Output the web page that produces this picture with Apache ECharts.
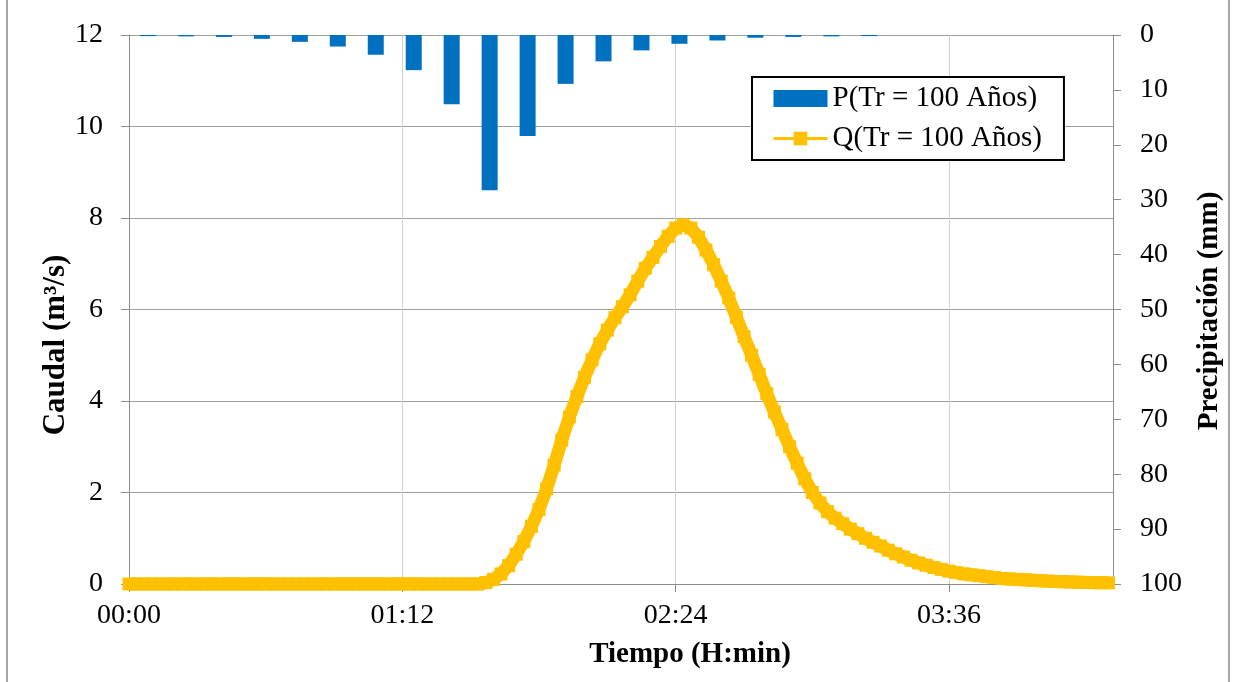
<!DOCTYPE html>
<html>
<head>
<meta charset="utf-8">
<script src="https://cdn.jsdelivr.net/npm/echarts@6/dist/echarts.min.js"></script>
<style>
html,body{margin:0;padding:0;background:#fff;}
#chart{width:1233px;height:682px;}
</style>
</head>
<body>
<div id="chart"></div>
<script>
// ---- Data ----
const seriesNameP = 'P(Tr = 100 Años)';
const seriesNameQ = 'Q(Tr = 100 Años)';

// Precipitation bars (mm), centred in 10-minute blocks (minutes)
const pTimes = [5, 15, 25, 35, 45, 55, 65, 75, 85, 95, 105, 115, 125, 135, 145, 155, 165, 175, 185, 195];
const pValues = [0.2, 0.25, 0.35, 0.7, 1.25, 2.1, 3.6, 6.4, 12.6, 28.3, 18.4, 8.9, 4.8, 2.8, 1.6, 1.0, 0.5, 0.35, 0.25, 0.2];

// Discharge hydrograph (m3/s), sampled every 2 minutes from 00:00
const qStepMin = 2;
const qValues = [
  0,0,0,0,0,0,0,0,0,0,
  0,0,0,0,0,0,0,0,0,0,
  0,0,0,0,0,0,0,0,0,0,
  0,0,0,0,0,0,0,0,0,0,
  0,0,0,0,0,0,0,
  0.03, 0.1, 0.22, 0.4, 0.65, 0.93, 1.26, 1.63, 2.08, 2.6,
  3.15, 3.65, 4.1, 4.52, 4.9, 5.25, 5.55, 5.82, 6.06, 6.32,
  6.62, 6.9, 7.14, 7.38, 7.6, 7.78, 7.85, 7.78, 7.58, 7.3,
  6.98, 6.62, 6.25, 5.83, 5.41, 5.0, 4.58, 4.16, 3.76, 3.38,
  3.0, 2.64, 2.3, 2.0, 1.77, 1.58, 1.44, 1.32, 1.2, 1.1,
  1.0, 0.91, 0.83, 0.74, 0.66, 0.59, 0.52, 0.46, 0.41, 0.36,
  0.32, 0.28, 0.25, 0.22, 0.2, 0.18, 0.16, 0.14, 0.12, 0.11,
  0.1, 0.09, 0.08, 0.07, 0.065, 0.055, 0.05, 0.045, 0.04, 0.035,
  0.03, 0.03, 0.025
];

// X axis (minutes) tick labels
const xTickValues = [0, 72, 144, 216];
const xTickLabels = ['00:00', '01:12', '02:24', '03:36'];
const xMin = 0, xMax = 259.2, xGridStep = 14.4;

const yLeftTitle = 'Caudal (m³/s)';
const yRightTitle = 'Precipitación (mm)';
const xTitle = 'Tiempo (H:min)';

// ---- Build ----
const qData = qValues.map((v, i) => [i * qStepMin, v]);
const pData = pTimes.map((t, i) => [t, pValues[i]]);

const FONT = "'Liberation Serif', 'Times New Roman', serif";
const chart = echarts.init(document.getElementById('chart'), null, {renderer: 'canvas'});

chart.setOption({
  animation: false,
  backgroundColor: '#ffffff',
  textStyle: {fontFamily: FONT, color: '#000'},
  grid: {left: 129, right: 120, top: 35, bottom: 98, containLabel: false},
  legend: {
    orient: 'vertical',
    left: 752, top: 77,
    padding: [7, 22, 7, 20],
    itemGap: 11,
    itemWidth: 54, itemHeight: 17,
    borderColor: '#000', borderWidth: 2,
    backgroundColor: '#fff',
    lineStyle: {width: 3},
    textStyle: {fontSize: 29, color: '#000', fontFamily: FONT},
    data: [{name: seriesNameP, icon: 'rect'}, {name: seriesNameQ}]
  },
  xAxis: {
    type: 'value', min: xMin, max: xMax, interval: xGridStep,
    axisLine: {show: true, lineStyle: {color: '#8c8c8c', width: 1}},
    axisTick: {show: true, length: 8, lineStyle: {color: '#8c8c8c'}, customValues: xTickValues},
    axisLabel: {
      fontSize: 28, color: '#000', margin: 18, fontFamily: FONT,
      customValues: xTickValues,
      formatter: function (v) {
        for (let i = 0; i < xTickValues.length; i++) {
          if (Math.abs(v - xTickValues[i]) < 0.01) return xTickLabels[i];
        }
        return '';
      }
    },
    splitLine: {show: true, lineStyle: {color: '#d0d0d0', width: 1}}
  },
  yAxis: [
    {
      type: 'value', min: 0, max: 12, interval: 2,
      axisLine: {show: true, lineStyle: {color: '#8c8c8c'}},
      axisTick: {show: true, length: 8, lineStyle: {color: '#8c8c8c'}},
      axisLabel: {fontSize: 28, color: '#000', margin: 26, fontFamily: FONT},
      splitLine: {show: true, lineStyle: {color: '#a0a0a0', width: 1}}
    },
    {
      type: 'value', min: 0, max: 100, interval: 10, inverse: true, position: 'right',
      axisLine: {show: true, lineStyle: {color: '#8c8c8c'}},
      axisTick: {show: true, length: 8, lineStyle: {color: '#8c8c8c'}},
      axisLabel: {fontSize: 28, color: '#000', margin: 27, fontFamily: FONT},
      splitLine: {show: false}
    }
  ],
  series: [
    {
      name: seriesNameP,
      type: 'bar',
      xAxisIndex: 0, yAxisIndex: 1,
      barWidth: 16,
      itemStyle: {color: '#0070C0'},
      data: pData,
      z: 2
    },
    {
      name: seriesNameQ,
      type: 'line',
      xAxisIndex: 0, yAxisIndex: 0,
      symbol: 'rect', symbolSize: 13, showSymbol: true, showAllSymbol: true,
      itemStyle: {color: '#FFC000'},
      lineStyle: {color: '#FFC000', width: 13},
      data: qData,
      z: 3
    }
  ],
  graphic: [
    {
      type: 'rect', silent: true, z: -10,
      shape: {x: 7, y: -10, width: 1222, height: 710},
      style: {fill: 'none', stroke: '#a6a6a6', lineWidth: 2}
    },
    {
      type: 'text', x: 56, y: 345, rotation: Math.PI / 2,
      style: {text: yLeftTitle, font: 'bold 31px ' + FONT, fill: '#000', align: 'center', verticalAlign: 'middle'}
    },
    {
      type: 'text', x: 1210, y: 311, rotation: Math.PI / 2,
      style: {text: yRightTitle, font: 'bold 29px ' + FONT, fill: '#000', align: 'center', verticalAlign: 'middle'}
    },
    {
      type: 'text', x: 690, y: 655,
      style: {text: xTitle, font: 'bold 29px ' + FONT, fill: '#000', align: 'center', verticalAlign: 'middle'}
    }
  ]
});
</script>
</body>
</html>
